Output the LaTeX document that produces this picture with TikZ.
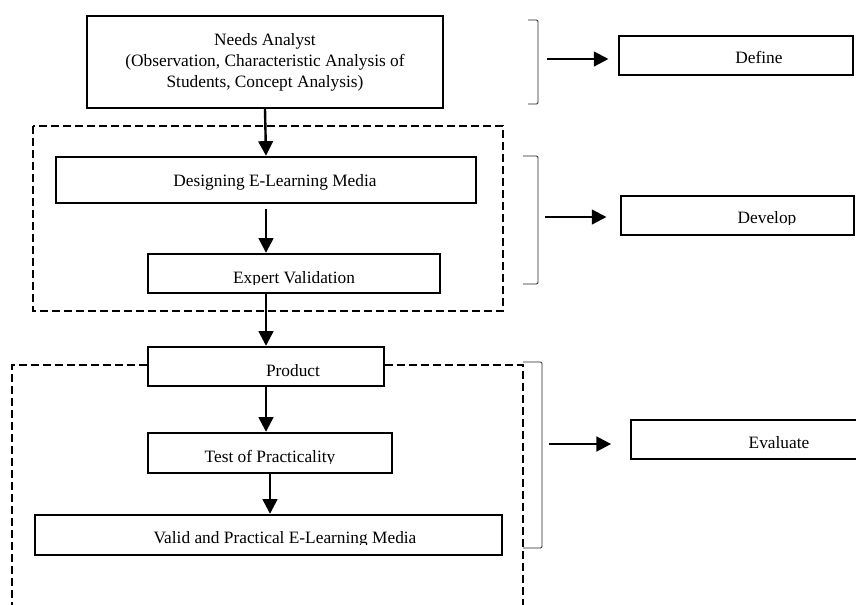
\documentclass[tikz,border=0pt]{standalone}
\usepackage{fontspec}
\setmainfont{Liberation Serif}
\usetikzlibrary{arrows.meta,fit}
\begin{document}
\begin{tikzpicture}[x=0.75pt,y=-0.75pt,
  box/.style={draw, line width=1.8pt, inner sep=0pt},
  lbl/.style={anchor=base, inner sep=0pt, font=\fontsize{13}{15.75}\selectfont},
  dbox/.style={line width=1.6pt, dash pattern=on 6pt off 3pt},
  brk/.style={line width=0.7pt, draw=black!85, rounded corners=1pt},
  arr/.style={line width=1.8pt, -{Triangle[length=11pt,width=11pt]}}]
\useasboundingbox (0,0) rectangle (856,604);

% boxes
\node[box, fit={(87,16) (443,108)}] (needs) {};
\node[box, fit={(56,157) (476,203)}] (design) {};
\node[box, fit={(148,254) (440,293)}] (expert) {};
\node[box, fit={(148,347) (384,386)}] (product) {};
\node[box, fit={(148,433) (392,473)}] (test) {};
\node[box, fit={(35,515) (502,555)}] (valid) {};
\node[box, fit={(619,36) (853,75)}] (define) {};
\node[box, fit={(621,196) (854,235)}] (develop) {};
\node[box, fit={(631,420) (858,459)}] (evaluate) {};

% texts
\node[lbl, anchor=center, align=center] (needs-t) at (265,62)
  {Needs Analyst\\(Observation, Characteristic Analysis of\\Students, Concept Analysis)};
\node[lbl] (design-t) at (275,186) {Designing E-Learning Media};
\begin{scope}
  \clip (148,254) rectangle (440,284);
  \node[lbl] (expert-t) at (294,283) {Expert Validation};
\end{scope}
\node[lbl] (product-t) at (293,376) {Product};
\begin{scope}
  \clip (148,433) rectangle (392,463);
  \node[lbl] (test-t) at (270,462) {Test of Practicality};
\end{scope}
\begin{scope}
  \clip (35,515) rectangle (502,544);
  \node[lbl] (valid-t) at (285,543) {Valid and Practical E-Learning Media};
\end{scope}
\node[lbl] (define-t) at (759,63) {Define};
\begin{scope}
  \clip (621,196) rectangle (854,224);
  \node[lbl] (develop-t) at (767,223) {Develop};
\end{scope}
\node[lbl] (evaluate-t) at (779,448) {Evaluate};

% dashed groups
\draw[dbox] (33,126) rectangle (503,311);
\coordinate (d2l) at (12,365);
\coordinate (d2r) at (523,365);
\draw[dbox] (d2l -| product.west) -- (d2l) -- (12,612);
\draw[dbox] (d2r -| product.east) -- (d2r) -- (523,612);

% brackets
\draw[brk] (528,20) -- (538,20) -- (538,104) -- (528,104);
\draw[brk] (523,156) -- (538,156) -- (538,284) -- (523,284);
\draw[brk] (523,362) -- (542,362) -- (542,548) -- (523,548);

% vertical arrows
\draw[arr] (needs.south) -- (design.north);
\draw[arr] ([yshift=-3.5pt]design.south) -- (design.south |- expert.north);
\draw[arr] (product.north |- expert.south) -- (product.north);
\draw[arr] (product.south) -- (product.south |- test.north);
\draw[arr] (test.south) -- (test.south |- valid.north);

% side arrows
\coordinate (dfa) at (547,59);
\coordinate (dva) at (545,217);
\coordinate (eva) at (549,444);
\draw[arr] (dfa) -- ([xshift=-7pt]dfa -| define.west);
\draw[arr] (dva) -- ([xshift=-10pt]dva -| develop.west);
\draw[arr] (eva) -- ([xshift=-14pt]eva -| evaluate.west);
\end{tikzpicture}
\end{document}
